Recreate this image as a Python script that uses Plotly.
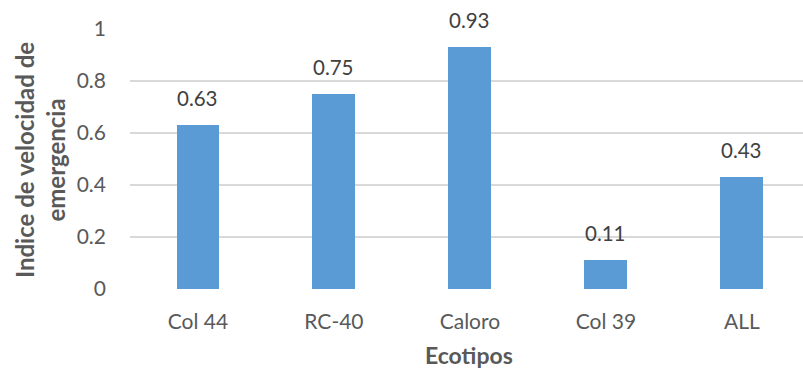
import plotly.graph_objects as go

ecotipos = ["Col 44", "RC-40", "Caloro", "Col 39", "ALL"]
indice = [0.63, 0.75, 0.93, 0.11, 0.43]
y_ticks = [0, 0.2, 0.4, 0.6, 0.8, 1]
y_tick_text = ["0", "0.2", "0.4", "0.6", "0.8", "1"]

font_family = "Lato, Open Sans, sans-serif"
bar_color = "#5B9BD5"

L, R, T, B = 130, 0, 29, 79
W, H = 803, 368
plot_w = W - L - R
plot_h = H - T - B

xs = list(range(len(ecotipos)))

fig = go.Figure(
    go.Bar(
        x=xs,
        y=indice,
        width=0.316,
        marker=dict(color=bar_color, line=dict(width=0)),
    )
)

# value labels above each bar
annotations = [
    dict(
        x=xi, y=v, xref="x", yref="y",
        text=f"{v:.2f}", showarrow=False,
        xanchor="center", yanchor="bottom", yshift=13,
        font=dict(family=font_family, size=20.5, color="#404040"),
    )
    for xi, v in zip(xs, indice)
]

# axis titles, positioned in pixels relative to the plot area
def px_to_paper(px, py):
    return (px - L) / plot_w, (H - B - py) / plot_h

ax, ay = px_to_paper(40, 160)
annotations.append(dict(
    text="Indice de velocidad de<br>emergencia",
    x=ax, y=ay, xref="paper", yref="paper",
    showarrow=False, textangle=-90,
    font=dict(family=font_family, size=24, color="#595959", weight="bold"),
    xanchor="center", yanchor="middle",
))
ex, ey = px_to_paper(469, 355)
annotations.append(dict(
    text="Ecotipos",
    x=ex, y=ey, xref="paper", yref="paper",
    showarrow=False,
    font=dict(family=font_family, size=23, color="#595959", weight="bold"),
    xanchor="center", yanchor="middle",
))

fig.update_layout(
    width=W,
    height=H,
    margin=dict(l=L, r=R, t=T, b=B),
    plot_bgcolor="white",
    paper_bgcolor="white",
    showlegend=False,
    bargap=0,
    xaxis=dict(
        range=[-0.5, 4.45],
        tickmode="array",
        tickvals=xs,
        ticktext=ecotipos,
        tickfont=dict(family=font_family, size=21, color="#595959"),
        showgrid=False,
        zeroline=False,
        showline=False,
        ticks="",
        ticklabelstandoff=18,
    ),
    yaxis=dict(
        range=[0, 1],
        tickmode="array",
        tickvals=y_ticks,
        ticktext=y_tick_text,
        tickfont=dict(family=font_family, size=21, color="#595959"),
        showgrid=True,
        gridcolor="#D9D9D9",
        gridwidth=1.5,
        zeroline=False,
        showline=False,
        ticks="",
        ticklabelstandoff=23,
    ),
    annotations=annotations,
)

fig.write_html("out.html")
